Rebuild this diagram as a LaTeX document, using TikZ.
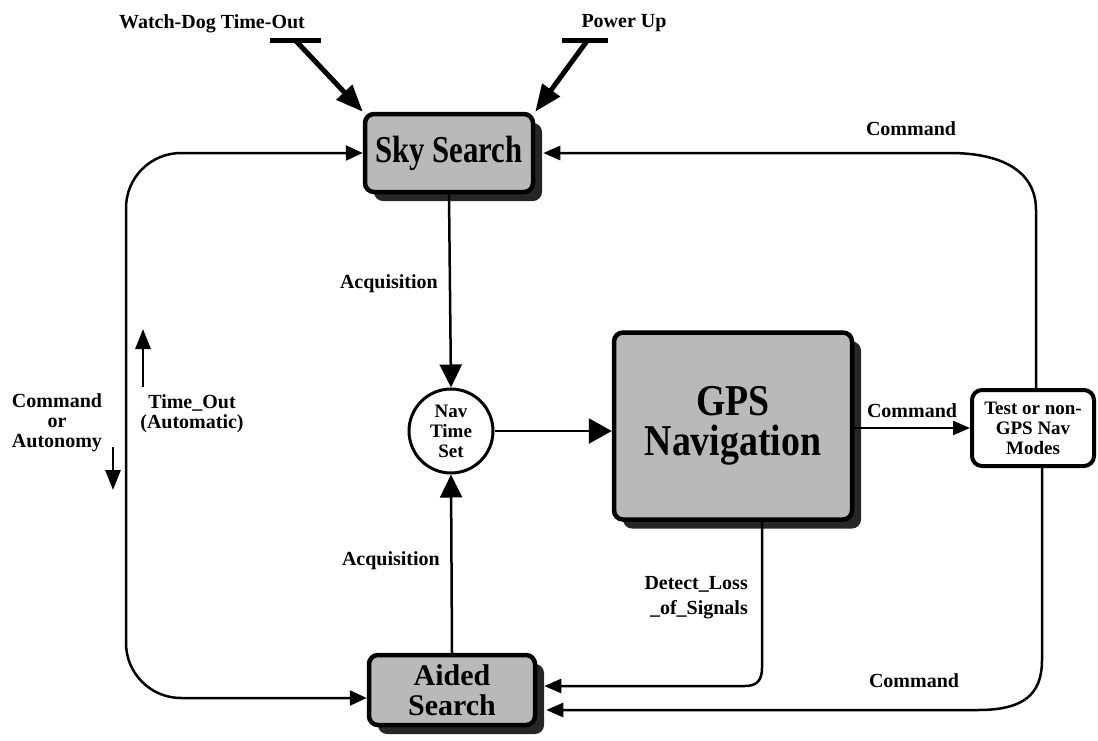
\documentclass[tikz,border=0pt]{standalone}
\usepackage{fontspec}
\setmainfont{Liberation Serif}
\newfontfamily\skyfont[FakeStretch=0.81]{Liberation Serif}
\newfontfamily\gpsfont[FakeStretch=0.86]{Liberation Serif}
\usetikzlibrary{arrows.meta,shadows}
\begin{document}
\begin{tikzpicture}[x=1pt,y=-1pt,
  lbl/.style={font=\bfseries\fontsize{20}{20}\selectfont, inner sep=0pt},
  statebox/.style={draw=black, line width=4.5pt, fill=gray!55, rounded corners=9pt, inner sep=0pt,
    drop shadow={opacity=1, fill=black!85, shadow xshift=9pt, shadow yshift=-9pt}},
  conn/.style={line width=2.5pt},
  thickconn/.style={line width=5pt},
  bighead/.style={-{Triangle[length=23pt,width=22pt]}},
  midhead/.style={-{Triangle[length=17pt,width=14pt]}},
  sidehead/.style={-{Triangle[length=20pt,width=15pt]}},
  fathead/.style={-{Triangle[length=27pt,width=21pt]}}
]
\useasboundingbox (0,0) rectangle (1098,740);

% state boxes
\node[statebox, minimum width=168pt, minimum height=78pt,
  font={\skyfont\bfseries\fontsize{38}{38}\selectfont}] (sky) at (449,153) {Sky Search};
\node[statebox, minimum width=238pt, minimum height=187pt, align=center,
  font={\gpsfont\bfseries\fontsize{44}{40}\selectfont}] (gps) at (733,426) {GPS\\Navigation};
\node[statebox, minimum width=166pt, minimum height=70pt, align=center,
  font={\bfseries\fontsize{30}{30}\selectfont}] (aided) at (452,690) {Aided\\Search};
\node[draw, line width=4pt, rounded corners=10pt, fill=white, minimum width=122pt, minimum height=76pt,
  align=center, inner sep=0pt, font={\bfseries\fontsize{19}{20}\selectfont}] (test) at (1033,428) {Test or non-\\GPS Nav\\Modes};
\node[circle, draw, line width=3pt, fill=white, minimum size=84pt, inner sep=0pt, align=center,
  font={\bfseries\fontsize{19}{20}\selectfont}] (nav) at (451,431) {Nav\\Time\\Set};

% external inputs
\node[lbl, anchor=base] (wdlbl) at (212,28) {Watch-Dog Time-Out};
\node[lbl, anchor=base] (pulbl) at (624,27) {Power Up};
\coordinate (wdA) at (270,40);
\coordinate (wdB) at (321,40);
\coordinate (wdM) at (296,41);
\coordinate (puA) at (562,40);
\coordinate (puB) at (608,40);
\coordinate (puM) at (587,41);
\draw[thickconn] (wdA) -- (wdB);
\draw[thickconn] (puA) -- (puB);
\draw[thickconn, fathead] (wdM) -- (sky.north west);
\draw[thickconn, fathead] (puM) -- (sky.north east);

% left loop
\coordinate (lx) at (126,0);
\coordinate (aw) at ([yshift=-8pt]aided.west);
\draw[conn, {Triangle[length=17pt,width=15pt]}-{Triangle[length=17pt,width=15pt]}, rounded corners=55pt]
  (sky.west) -| (lx |- aw) -- (aw);

% acquisition paths
\draw[conn, bighead] (sky.south) -- (nav.north);
\draw[conn, bighead] (aided.north) -- (nav.south);
\draw[conn, -{Triangle[length=23pt,width=25pt]}] (nav.east) -- (nav.east -| gps.west);

% command to test modes
\draw[conn, midhead] (gps.east |- test.west) -- (test.west);

% test modes back to sky search
\coordinate (tn) at ([xshift=3pt]test.north);
\coordinate (se) at ([xshift=8pt]sky.east);
\draw[conn, midhead] (tn) -- (tn |- 0,210) .. controls +(0,-40) and +(50,0) .. (950,153) -- (se);

% test modes to aided search
\coordinate (ts) at ([xshift=9pt]test.south);
\coordinate (ae1) at ([xshift=9pt,yshift=-20pt]aided.east);
\draw[conn, midhead] (ts) -- (ts |- 0,660) .. controls +(0,35) and +(45,0) .. (978,710) -- (ae1);

% detect loss of signals
\coordinate (gs) at ([xshift=29pt]gps.south);
\coordinate (ae2) at ([xshift=7pt,yshift=4pt]aided.east);
\draw[conn, midhead] (gs) -- (gs |- 0,668) .. controls +(0,12) and +(12,0) .. (745,686) -- (ae2);

% small direction arrows
\coordinate (upA) at (143,387);
\coordinate (upB) at (143,329);
\coordinate (dnA) at (113,447);
\coordinate (dnB) at (113,490);
\draw[line width=2.8pt, sidehead] (upA) -- (upB);
\draw[line width=2.8pt, sidehead] (dnA) -- (dnB);

% labels
\node[lbl, align=center] (cmdauto) at (57,423) {Command\\or\\Autonomy};
\node[lbl, align=center] (timeout) at (192,414) {Time\_Out\\(Automatic)};
\node[lbl, anchor=base east] (acq1) at (438,288) {Acquisition};
\node[lbl, anchor=base east] (acq2) at (440,565) {Acquisition};
\node[lbl, anchor=base] (cmd1) at (911,135) {Command};
\node[lbl, anchor=base] (cmd2) at (912,417) {Command};
\node[lbl, anchor=base] (cmd3) at (914,687) {Command};
\node[lbl, align=right, anchor=east, font={\bfseries\fontsize{20}{25}\selectfont}] (detect) at (748,598) {Detect\_Loss\\\_of\_Signals};
\end{tikzpicture}
\end{document}
